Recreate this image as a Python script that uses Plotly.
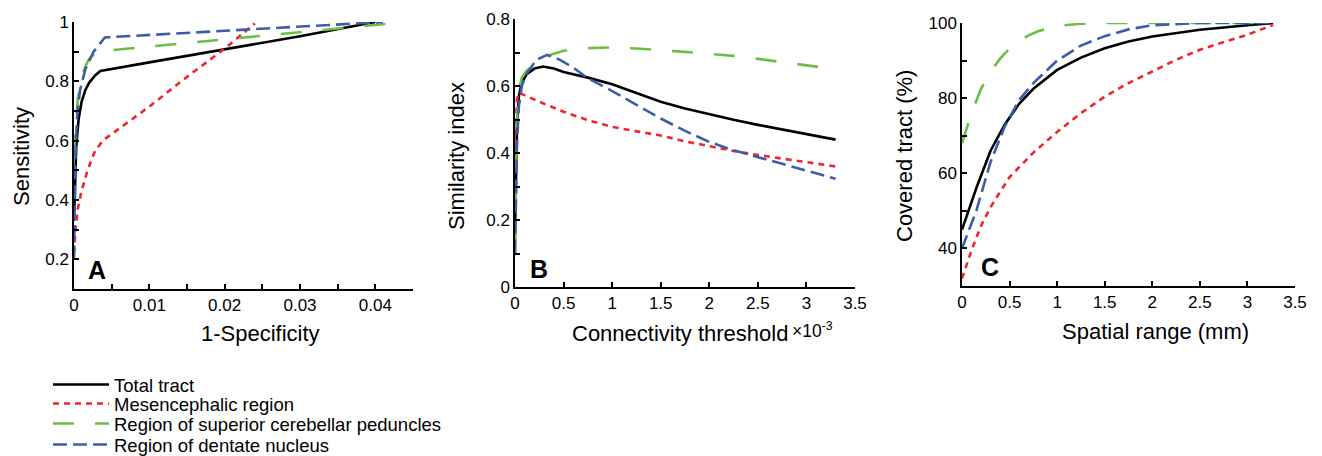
import plotly.graph_objects as go

# ---------------- data ----------------
series_names = ["Total tract", "Mesencephalic region",
                "Region of superior cerebellar peduncles", "Region of dentate nucleus"]

# Panel A: ROC (x = 1-Specificity, y = Sensitivity)
A_total_x = [0, 0.0001, 0.0003, 0.0006, 0.001, 0.0015, 0.002, 0.0028, 0.0035, 0.01, 0.02, 0.03, 0.04]
A_total_y = [0.33, 0.45, 0.58, 0.67, 0.73, 0.77, 0.795, 0.82, 0.835, 0.864, 0.907, 0.952, 1.0]
A_mes_x = [0, 0.0002, 0.0005, 0.001, 0.0018, 0.0027, 0.0038, 0.006, 0.01, 0.015, 0.02, 0.024]
A_mes_y = [0.22, 0.3, 0.37, 0.43, 0.5, 0.56, 0.6, 0.64, 0.715, 0.815, 0.91, 0.995]
A_scp_x = [0, 0.0002, 0.0005, 0.001, 0.0015, 0.002, 0.003, 0.042]
A_scp_y = [0.55, 0.65, 0.74, 0.81, 0.85, 0.875, 0.9, 0.995]
A_dn_x = [0, 0.0001, 0.0002, 0.0004, 0.0008, 0.0015, 0.0026, 0.0041, 0.041]
A_dn_y = [0.2, 0.4, 0.55, 0.68, 0.77, 0.84, 0.9, 0.948, 1.0]

# Panel B: similarity index vs connectivity threshold (x10^-3)
B_total_x = [0, 0.01, 0.02, 0.04, 0.07, 0.12, 0.2, 0.29, 0.4, 0.5, 0.75, 1.0, 1.25, 1.5, 1.75, 2.0, 2.25, 2.5, 2.75, 3.0, 3.3]
B_total_y = [0.15, 0.35, 0.48, 0.57, 0.61, 0.635, 0.652, 0.658, 0.652, 0.642, 0.625, 0.605, 0.578, 0.553, 0.533, 0.515, 0.499, 0.484, 0.47, 0.456, 0.44]
B_mes_x = [0, 0.01, 0.02, 0.04, 0.1, 0.25, 0.5, 0.75, 1.0, 1.25, 1.5, 1.75, 2.0, 2.25, 2.5, 2.75, 3.0, 3.3]
B_mes_y = [0.42, 0.5, 0.56, 0.58, 0.572, 0.553, 0.523, 0.498, 0.478, 0.465, 0.452, 0.435, 0.42, 0.406, 0.394, 0.383, 0.373, 0.36]
B_scp_x = [0, 0.01, 0.02, 0.04, 0.07, 0.12, 0.22, 0.35, 0.5, 0.75, 1.0, 1.25, 1.5, 1.75, 2.0, 2.25, 2.5, 2.75, 3.0, 3.3]
B_scp_y = [0.1, 0.35, 0.5, 0.59, 0.625, 0.645, 0.672, 0.692, 0.705, 0.713, 0.715, 0.712, 0.708, 0.702, 0.696, 0.69, 0.681, 0.672, 0.662, 0.65]
B_dn_x = [0, 0.01, 0.02, 0.04, 0.07, 0.12, 0.22, 0.33, 0.45, 0.6, 0.75, 1.0, 1.25, 1.5, 1.75, 2.0, 2.25, 2.5, 2.75, 3.0, 3.3]
B_dn_y = [0.1, 0.3, 0.42, 0.54, 0.6, 0.637, 0.678, 0.693, 0.68, 0.655, 0.623, 0.585, 0.545, 0.503, 0.466, 0.433, 0.408, 0.388, 0.367, 0.346, 0.323]

# Panel C: covered tract (%) vs spatial range (mm)
C_total_x = [0, 0.15, 0.3, 0.45, 0.6, 0.75, 1.0, 1.25, 1.5, 1.75, 2.0, 2.5, 3.0, 3.27]
C_total_y = [45, 56, 66, 73, 78.5, 82.5, 87.5, 90.8, 93.3, 95.1, 96.4, 98.2, 99.4, 100]
C_mes_x = [0, 0.1, 0.2, 0.3, 0.5, 0.75, 1.0, 1.25, 1.5, 1.75, 2.0, 2.25, 2.5, 2.75, 3.0, 3.27]
C_mes_y = [32, 39.5, 46, 51, 59, 65.5, 71, 76, 80.4, 84, 87.1, 90.2, 92.9, 95, 96.9, 99.5]
C_scp_x = [0, 0.1, 0.2, 0.3, 0.4, 0.5, 0.6, 0.7, 0.8, 0.9, 1.0, 1.25, 1.5, 3.27]
C_scp_y = [68, 76, 82.5, 87, 90.5, 93.2, 95.2, 96.7, 97.8, 98.6, 99.2, 99.8, 100, 100]
C_dn_x = [0, 0.15, 0.3, 0.45, 0.6, 0.75, 1.0, 1.25, 1.5, 1.75, 2.0, 2.5, 3.27]
C_dn_y = [40, 50, 63, 72.5, 79.5, 84, 90, 94, 96.5, 98.3, 99.4, 100, 100]

A_data = [(A_total_x, A_total_y), (A_mes_x, A_mes_y), (A_scp_x, A_scp_y), (A_dn_x, A_dn_y)]
B_data = [(B_total_x, B_total_y), (B_mes_x, B_mes_y), (B_scp_x, B_scp_y), (B_dn_x, B_dn_y)]
C_data = [(C_total_x, C_total_y), (C_mes_x, C_mes_y), (C_scp_x, C_scp_y), (C_dn_x, C_dn_y)]

# ---------------- style ----------------
colors = ["#000000", "#f0262d", "#6cbf45", "#3d5dab"]
dashes = ["solid", "6px,5px", "21px,21px", "14px,6px"]
LW = 2.6
FONT = "Liberation Sans, Arial, Helvetica, sans-serif"
OFF = 8                      # default page body margin
W, H = 1322 - OFF, 456 - OFF
legend_ids = ["legend", "legend2", "legend3", "legend4"]
legend_rows = [385, 404, 424, 445]   # pixel row centres (page)

fig = go.Figure()

panels = [(A_data, "x", "y"), (B_data, "x2", "y2"), (C_data, "x3", "y3")]
for pi, (data, xa, ya) in enumerate(panels):
    for si, (xs, ys) in enumerate(data):
        fig.add_trace(go.Scatter(
            x=xs, y=ys, mode="lines", xaxis=xa, yaxis=ya,
            name=series_names[si], showlegend=(pi == 0), legend=legend_ids[si],
            line=dict(color=colors[si], width=LW, dash=dashes[si]),
        ))

def px_x(p):
    return (p - OFF) / W

def px_y(p):
    return 1 - (p - OFF) / H

tickfont = dict(family=FONT, size=17, color="black")
minor_style = dict(ticks="inside", ticklen=5, tickwidth=1.5, tickcolor="black")
axis_common = dict(showline=True, linecolor="black", linewidth=1.5, ticks="inside",
                   ticklen=5, tickwidth=1.5, tickcolor="black", showgrid=False,
                   zeroline=False, mirror=False, automargin=False,
                   tickfont=tickfont)

layout_kw = dict(
    width=W, height=H,
    margin=dict(l=0, r=0, t=0, b=0, autoexpand=False),
    paper_bgcolor="white", plot_bgcolor="white",
    font=dict(family=FONT, color="black"),
    xaxis=dict(domain=[px_x(74), px_x(413)], range=[0, 0.045], dtick=0.01, tick0=0,
               minor=dict(dtick=0.005, tick0=0, **minor_style),
               anchor="y", **axis_common),
    yaxis=dict(domain=[px_y(289), px_y(22)], range=[0.1, 1.0], dtick=0.2, tick0=0,
               minor=dict(dtick=0.1, tick0=0, **minor_style),
               anchor="x", **axis_common),
    xaxis2=dict(domain=[px_x(515), px_x(855)], range=[0, 3.5], dtick=0.5, tick0=0,
                anchor="y2", **axis_common),
    yaxis2=dict(domain=[px_y(287), px_y(19)], range=[0, 0.8], dtick=0.2, tick0=0,
                minor=dict(dtick=0.1, tick0=0, **minor_style),
                anchor="x2", **axis_common),
    xaxis3=dict(domain=[px_x(962), px_x(1295)], range=[0, 3.5], dtick=0.5, tick0=0,
                anchor="y3", **axis_common),
    yaxis3=dict(domain=[px_y(286), px_y(23)], range=[30, 100], dtick=20, tick0=0,
                minor=dict(dtick=10, tick0=0, **minor_style),
                anchor="x3", **axis_common),
)
for lid, row in zip(legend_ids, legend_rows):
    layout_kw[lid] = dict(x=px_x(48), y=px_y(row), xanchor="left", yanchor="middle",
                          font=dict(family=FONT, size=18.5, color="black"),
                          bgcolor="rgba(0,0,0,0)", borderwidth=0, itemwidth=56)
fig.update_layout(**layout_kw)

def ann(text, x, y, size, angle=0, xanchor="center", bold=False):
    fig.add_annotation(text=("<b>%s</b>" % text) if bold else text,
                       xref="paper", yref="paper", x=px_x(x), y=px_y(y),
                       xanchor=xanchor, yanchor="middle", showarrow=False,
                       textangle=angle, font=dict(family=FONT, size=size, color="black"))

# axis titles
ann("1-Specificity", 260, 333, 22)
ann("Sensitivity", 21, 157, 22, angle=-90)
ann("Connectivity threshold", 790, 333, 22, xanchor="right")
ann("×10<sup>-3</sup>", 790, 330, 17.5, xanchor="left")
ann("Similarity index", 457, 156, 22, angle=-90)
ann("Spatial range (mm)", 1155, 331, 22)
ann("Covered tract (%)", 905, 156, 22, angle=-90)

# panel letters
ann("A", 97, 270, 25, bold=True)
ann("B", 539, 269, 25, bold=True)
ann("C", 990, 267, 25, bold=True)

fig.write_html("out.html")
